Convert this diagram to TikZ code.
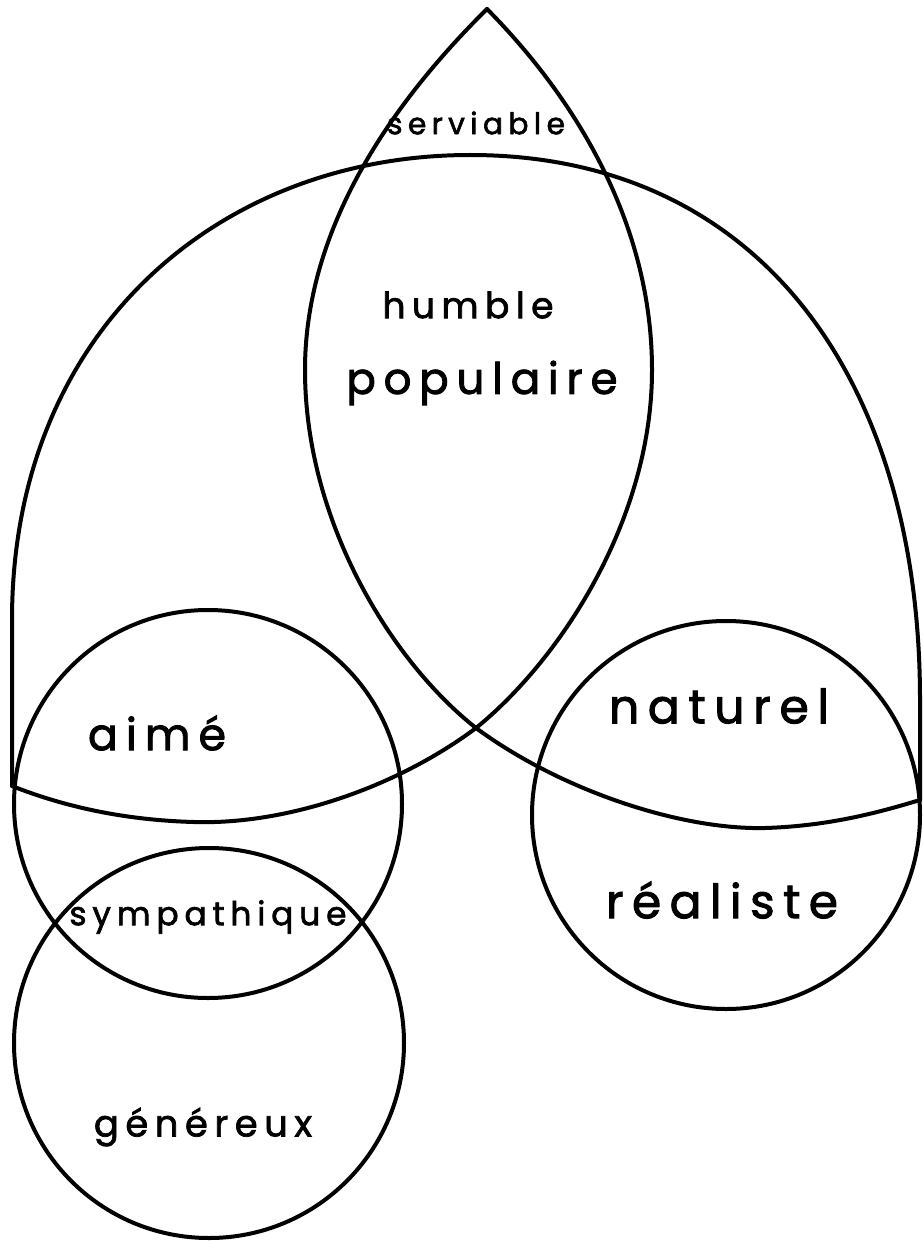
\documentclass[tikz,border=0pt]{standalone}
\usepackage{fontspec}
\usepackage{graphicx}
\newfontfamily\hand[LetterSpace=18, FakeBold=2]{Poppins}
\tikzset{
  curve/.style={line width=4pt, line join=round, line cap=round},
  lbl/.style={inner sep=0pt, anchor=center}
}
\newcommand\handlbl[2]{\resizebox{#1pt}{!}{\hand #2}}
\begin{document}
\begin{tikzpicture}[x=1pt,y=-1pt]
\path[use as bounding box, fill=white] (0,0) rectangle (922,1241);
% named points
\coordinate (apex) at (487,9);
\coordinate (cross) at (476,728);
% big arch
\draw[curve] (12,786) -- (12,620)
  .. controls (12,330) and (220,155) .. (470,155)
  .. controls (760,155) and (920,380) .. (920,700) -- (920,800);
% leaf left curve continuing to the right
\draw[curve] (apex) .. controls (395,100) and (305,225) .. (305,370)
  .. controls (305,520) and (390,660) .. (cross)
  .. controls (560,790) and (680,830) .. (765,828)
  .. controls (830,826) and (880,812) .. (920,800);
% leaf right curve continuing to the left
\draw[curve] (apex) .. controls (577,100) and (652,225) .. (652,370)
  .. controls (652,520) and (560,660) .. (cross)
  .. controls (400,785) and (290,825) .. (194,822)
  .. controls (120,820) and (60,805) .. (12,786);
% circles
\draw[curve] (208,804) circle[radius=194pt];
\draw[curve] (209,1043) circle[radius=195pt];
\draw[curve] (726,815) circle[radius=194pt];
% labels
\node[lbl] (serv) at (476,123) {\handlbl{178}{serviable}};
\node[lbl] (humb) at (468,305) {\handlbl{171}{humble}};
\node[lbl] (popu) at (482,383) {\handlbl{271}{populaire}};
\node[lbl] (aime) at (157,733) {\handlbl{138}{aimé}};
\node[lbl] (symp) at (208,917) {\handlbl{277}{sympathique}};
\node[lbl] (gene) at (203,1127) {\handlbl{218}{généreux}};
\node[lbl] (natu) at (719,706) {\handlbl{220}{naturel}};
\node[lbl] (real) at (722,900) {\handlbl{232}{réaliste}};
\end{tikzpicture}
\end{document}
